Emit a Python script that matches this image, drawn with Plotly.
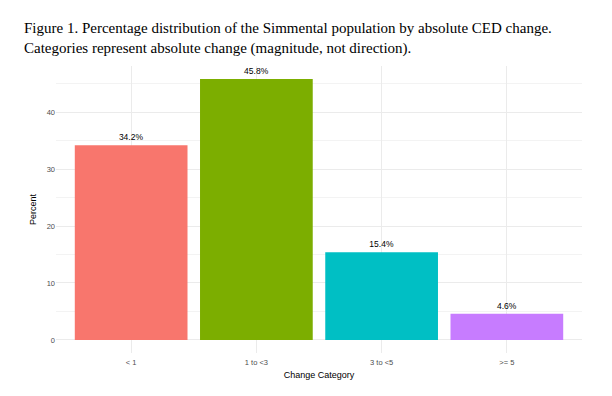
import plotly.graph_objects as go

categories = ["< 1", "1 to <3", "3 to <5", ">= 5"]
percents = [34.2, 45.8, 15.4, 4.6]
labels = ["34.2%", "45.8%", "15.4%", "4.6%"]
colors = ["#F8766D", "#7CAE00", "#00BFC4", "#C77CFF"]

ymax = max(percents) * 1.05
ymin = -max(percents) * 0.05

fig = go.Figure(go.Bar(
    x=categories, y=percents, marker=dict(color=colors, line=dict(width=0)),
    width=0.9, text=labels, textposition="outside", cliponaxis=False,
    textfont=dict(family="Liberation Sans, Arial", size=8.5, color="black"),
))

fig.update_layout(
    width=612, height=396,
    margin=dict(l=48, r=38, t=58, b=51, autoexpand=False),
    paper_bgcolor="white", plot_bgcolor="white",
    showlegend=False,
    font=dict(family="Liberation Sans, Arial", size=8, color="#4d4d4d"),
    annotations=[dict(
        text="Figure 1. Percentage distribution of the Simmental population by absolute CED change.<br>Categories represent absolute change (magnitude, not direction).",
        xref="paper", yref="paper", x=-0.065, y=1.0, yshift=48, xanchor="left", yanchor="top",
        align="left", showarrow=False,
        font=dict(family="Liberation Serif, Times New Roman", size=15, color="black"),
    )],
)
fig.update_xaxes(
    range=[-0.6, 3.6], showgrid=True, gridcolor="#ebebeb", gridwidth=1,
    ticks="outside", ticklen=2, tickcolor="rgba(0,0,0,0)",
    tickfont=dict(size=7.5, color="#4d4d4d"), automargin=False,
    title=dict(text="Change Category", font=dict(size=9, color="black"), standoff=5),
    zeroline=False, showline=False,
)
fig.update_yaxes(
    range=[ymin, ymax], dtick=10, showgrid=True, gridcolor="#ebebeb", gridwidth=1,
    minor=dict(dtick=5, showgrid=True, gridcolor="#f3f3f3", gridwidth=0.6),
    ticks="", tickfont=dict(size=7.5, color="#4d4d4d"), automargin=False,
    title=dict(text="Percent", font=dict(size=9, color="black"), standoff=8),
    zeroline=False, showline=False,
)

fig.write_html("out.html")
